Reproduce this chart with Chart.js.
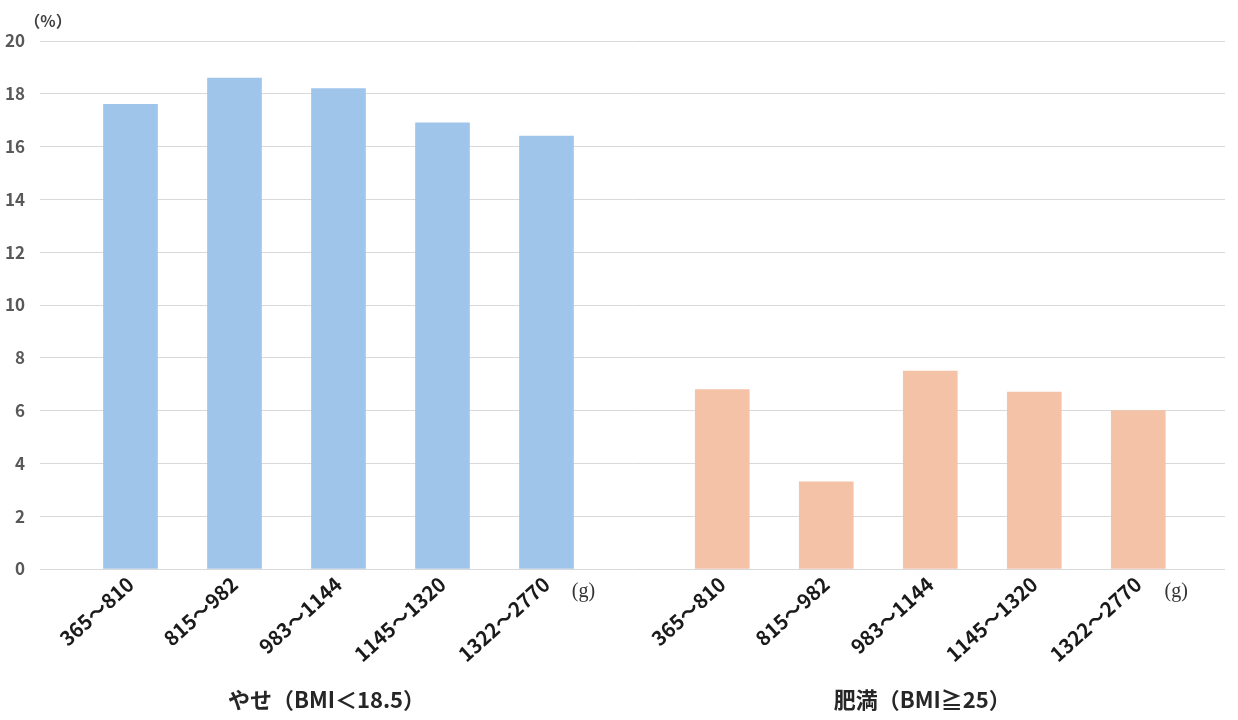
<!DOCTYPE html>
<html><head><meta charset="utf-8">
<script src="https://cdn.jsdelivr.net/npm/chart.js@4"></script>
<style>html,body{margin:0;padding:0;background:#fff;} #wrap{width:1238px;height:720px;position:relative}</style>
</head><body><div id="wrap"><canvas id="c" width="1238" height="720"></canvas></div>
<script>
const categories = ['365～810','815～982','983～1144','1145～1320','1322～2770'];
const groupNames = ['やせ（BMI＜18.5）','肥満（BMI≧25）'];
const thinValues = [17.6, 18.6, 18.2, 16.9, 16.4];
const obeseValues = [6.8, 3.3, 7.5, 6.7, 6.0];
const yTickValues = [0, 2, 4, 6, 8, 10, 12, 14, 16, 18, 20];
const yUnit = '（%）';
const xUnit = '(g)';

const GROUP_OFFSET = 5.69;
const thinPos = categories.map((c, i) => i);
const obesePos = categories.map((c, i) => i + GROUP_OFFSET);
const allPos = thinPos.concat(obesePos);
const allLabels = categories.concat(categories);

const FONT = "'Noto Sans CJK JP', 'Noto Sans', sans-serif";

const extraText = {
  id: 'extraText',
  afterDraw(chart) {
    const ctx = chart.ctx;
    const xs = chart.scales.x;
    ctx.save();
    ctx.fillStyle = '#404040';
    ctx.font = "bold 16px " + FONT;
    ctx.textAlign = 'center';
    ctx.textBaseline = 'middle';
    ctx.fillText(yUnit, 48, 21);
    ctx.font = "20px 'Liberation Serif', 'DejaVu Serif', serif";
    ctx.fillStyle = '#333';
    ctx.fillText(xUnit, xs.getPixelForValue(thinPos[4]) + 37, 592);
    ctx.fillText(xUnit, xs.getPixelForValue(obesePos[4]) + 38, 592);
    ctx.font = "bold 22px " + FONT;
    ctx.fillStyle = '#262626';
    ctx.fillText(groupNames[0], xs.getPixelForValue(thinPos[2]) - 12, 700);
    ctx.fillText(groupNames[1], xs.getPixelForValue(obesePos[2]) - 8, 700);
    ctx.restore();
  }
};

new Chart(document.getElementById('c'), {
  type: 'bar',
  data: {
    datasets: [
      { label: groupNames[0], data: thinValues.map((v, i) => ({ x: thinPos[i], y: v })), backgroundColor: '#A0C5EA', barThickness: 54, grouped: false },
      { label: groupNames[1], data: obeseValues.map((v, i) => ({ x: obesePos[i], y: v })), backgroundColor: '#F4C2A6', barThickness: 54, grouped: false }
    ]
  },
  options: {
    responsive: false,
    animation: false,
    devicePixelRatio: 1,
    layout: { padding: { top: 41, right: 13, left: 0, bottom: 0 } },
    plugins: { legend: { display: false }, tooltip: { enabled: false } },
    scales: {
      x: {
        type: 'linear',
        offset: false,
        min: -0.87,
        max: 10.524,
        grid: { display: false, drawTicks: false, offset: false },
        border: { display: false },
        afterBuildTicks: axis => { axis.ticks = allPos.map(v => ({ value: v })); },
        afterFit: axis => { axis.height = 151; },
        ticks: {
          autoSkip: false,
          minRotation: 42,
          maxRotation: 42,
          padding: 3,
          color: '#1a1a1a',
          font: { family: FONT, size: 20, weight: 'bold' },
          callback: v => {
            const i = allPos.findIndex(p => Math.abs(p - v) < 1e-6);
            return i >= 0 ? allLabels[i] : '';
          }
        }
      },
      y: {
        min: 0,
        max: 20,
        afterBuildTicks: axis => { axis.ticks = yTickValues.map(v => ({ value: v })); },
        afterFit: axis => { axis.width = 40; },
        grid: { color: '#D9D9D9', drawTicks: false, lineWidth: 1 },
        border: { display: false },
        ticks: {
          padding: 15,
          color: '#595959',
          font: { family: FONT, size: 17, weight: 'bold' }
        }
      }
    }
  },
  plugins: [extraText]
});
</script></body></html>
